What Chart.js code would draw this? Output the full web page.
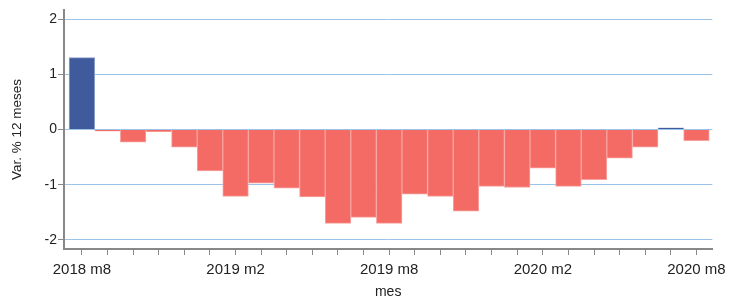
<!DOCTYPE html>
<html>
<head>
<meta charset="utf-8">
<script src="https://cdn.jsdelivr.net/npm/chart.js@4"></script>
<style>
  html, body { margin: 0; padding: 0; background: #fff; }
  #wrap { width: 732px; height: 299px; }
</style>
</head>
<body>
<div id="wrap"><canvas id="grafico"></canvas></div>
<script>
// Meses (2018 m8 .. 2020 m8)
const meses = ['2018 m8', '2018 m9', '2018 m10', '2018 m11', '2018 m12',
    '2019 m1', '2019 m2', '2019 m3', '2019 m4', '2019 m5', '2019 m6', '2019 m7',
    '2019 m8', '2019 m9', '2019 m10', '2019 m11', '2019 m12',
    '2020 m1', '2020 m2', '2020 m3', '2020 m4', '2020 m5', '2020 m6', '2020 m7', '2020 m8'];

// Variación % 12 meses
const variacion = [1.30, -0.03, -0.23, -0.04, -0.32,
    -0.75, -1.21, -0.97, -1.06, -1.22, -1.70, -1.59,
    -1.70, -1.17, -1.21, -1.48, -1.03,
    -1.05, -0.70, -1.03, -0.91, -0.52, -0.32, 0.03, -0.20];

// Meses con etiqueta en el eje
const etiquetasEje = ['2018 m8', '2019 m2', '2019 m8', '2020 m2', '2020 m8'];
const ticksY = [-2, -1, 0, 1, 2];

const puntos = variacion.map((v, i) => ({ x: i, y: v }));
const fondo = variacion.map(v => v >= 0 ? '#3f5b9b' : '#f36b64');
const borde = variacion.map(v => v >= 0 ? '#8b9dca' : '#f8a3a1');

const fuente = 'Liberation Sans, Arial, sans-serif';

const ctx = document.getElementById('grafico').getContext('2d');
new Chart(ctx, {
    type: 'bar',
    data: {
        datasets: [{
            data: puntos,
            backgroundColor: fondo,
            borderColor: borde,
            borderWidth: 1,
            barPercentage: 1,
            categoryPercentage: 1
        }]
    },
    options: {
        responsive: true,
        maintainAspectRatio: false,
        animation: false,
        layout: { padding: { top: 10, right: 15, bottom: 0, left: 0 } },
        plugins: {
            legend: { display: false },
            tooltip: { enabled: false }
        },
        scales: {
            x: {
                type: 'linear',
                offset: false,
                min: -0.70,
                max: 24.62,
                afterBuildTicks: (scale) => {
                    scale.ticks = meses.map((m, i) => ({ value: i }));
                },
                ticks: {
                    autoSkip: false,
                    maxRotation: 0,
                    color: '#222',
                    font: { family: fuente, size: 15 },
                    padding: 6,
                    callback: (value) => {
                        const m = meses[value];
                        return etiquetasEje.includes(m) ? m : '';
                    }
                },
                grid: {
                    offset: false,
                    drawOnChartArea: false,
                    drawTicks: true,
                    tickLength: 6,
                    tickColor: '#888'
                },
                border: { color: '#888', width: 2 },
                title: {
                    display: true,
                    text: 'mes',
                    color: '#222',
                    font: { family: fuente, size: 14 },
                    padding: { top: 0, bottom: -2 }
                },
                afterFit: (scale) => { scale.height = 50; }
            },
            y: {
                min: -2.163,
                max: 2.163,
                afterBuildTicks: (scale) => {
                    scale.ticks = ticksY.map(v => ({ value: v }));
                },
                ticks: {
                    color: '#222',
                    font: { family: fuente, size: 14 },
                    padding: 1
                },
                grid: {
                    color: '#9cc3e8',
                    lineWidth: 1,
                    tickLength: 6,
                    tickColor: '#888'
                },
                border: { color: '#888', width: 2 },
                title: {
                    display: true,
                    text: 'Var. % 12 meses',
                    color: '#222',
                    font: { family: fuente, size: 13.5 },
                    padding: { top: 9, bottom: 0 }
                },
                afterFit: (scale) => { scale.width = 64; }
            }
        }
    }
});
</script>
</body>
</html>
